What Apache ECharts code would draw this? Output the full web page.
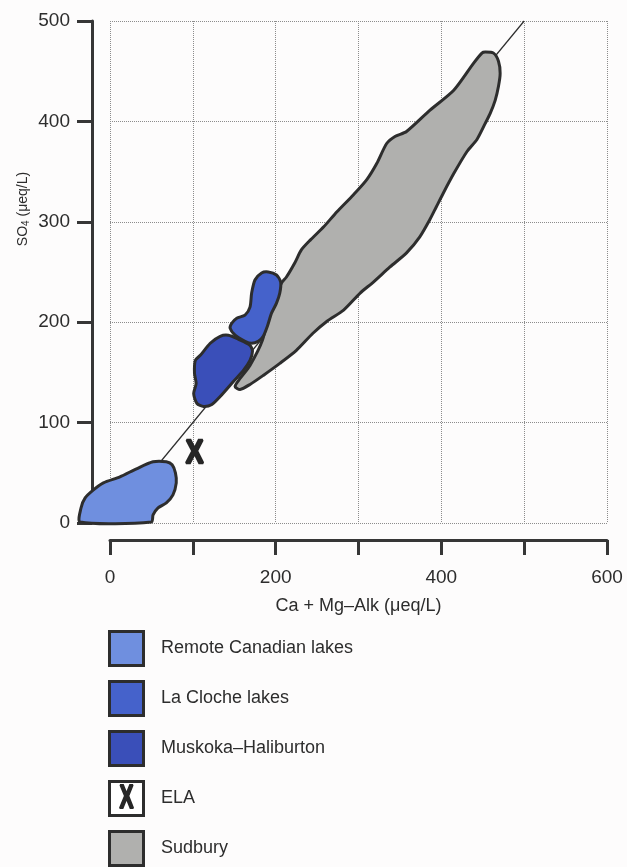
<!DOCTYPE html>
<html>
<head>
<meta charset="utf-8">
<title>SO4 vs Ca + Mg–Alk</title>
<script src="https://cdn.jsdelivr.net/npm/echarts@6/dist/echarts.min.js"></script>
<style>
  html, body { margin: 0; padding: 0; background: #fdfcfc; }
  #chart { width: 627px; height: 867px; }
</style>
</head>
<body>
<div id="chart"></div>
<script>
// Outlines of each lake group, as [Ca + Mg - Alk, SO4] pairs (µeq/L)
const remoteLakes = [[-36,1],[50,1],[52,8],[58,15],[68,20],[76,28],[80,40],[79,50],[75,58],[68,61],[52,61],[32,54],[12,46],[-8,40],[-20,33],[-30,25],[-35,15]];
const muskokaLakes = [[103,162],[109,167],[121,179],[133,186],[143,187],[155,183],[169,177],[172,171],[169,162],[161,152],[149,141],[133,126],[123,118],[113,116],[105,119],[101,129],[104,139],[102,149]];
const laClocheLakes = [[145,194],[147,199],[153,204],[163,207],[169,215],[171,229],[175,242],[183,249],[191,250],[201,247],[206,240],[205,229],[201,219],[195,209],[190,196],[185,186],[179,181],[171,179],[163,181],[151,187]];
const sudburyLakes = [[151,136],[157,133],[169,138],[185,147],[205,159],[225,172],[245,189],[262,201],[282,212],[302,229],[318,240],[338,255],[358,269],[374,285],[386,302],[394,315],[402,328],[415,348],[431,370],[443,382],[453,398],[459,408],[465,421],[469,435],[471,448],[469,460],[463,468],[453,469],[449,468],[439,458],[415,431],[386,411],[358,390],[344,385],[334,378],[322,358],[310,342],[294,327],[274,310],[258,295],[242,282],[231,272],[223,259],[213,245],[207,239],[193,212],[184,182],[169,157],[157,144]];
const elaPoint = [102, 70];
const oneToOneLine = [[0, 0], [500, 500]];

// Legend entries
const legendNames = ['Remote Canadian lakes', 'La Cloche lakes', 'Muskoka–Haliburton', 'ELA', 'Sudbury'];
const legendColors = ['#6f8fdf', '#4562cb', '#3a4fb9', '#ffffff', '#b0b0ae'];

// Axis ticks
const xTickValues = [0, 100, 200, 300, 400, 500, 600];
const xLabelValues = [0, 200, 400, 600];
const yTickValues = [0, 100, 200, 300, 400, 500];

const FONT = '"Liberation Sans", Arial, sans-serif';
const INK = '#2d2d2d';
const AXIS = '#363636';

const chart = echarts.init(document.getElementById('chart'), null, { renderer: 'canvas' });

function outlineSeries(name, pts, color, z) {
  return {
    name: name,
    type: 'custom',
    clip: false,
    silent: true,
    z: z,
    data: pts,
    encode: { x: 0, y: 1 },
    renderItem: function (params, api) {
      if (params.dataIndex !== 0) return null;
      const points = pts.map(function (p) { return api.coord(p); });
      return {
        type: 'polygon',
        shape: { points: points, smooth: 0.25 },
        style: { fill: color, stroke: INK, lineWidth: 3, lineJoin: 'round' }
      };
    }
  };
}

// Bold narrow "X" used for the ELA mark
function elaGlyph(x, y, size, squeeze, weight) {
  return {
    type: 'text', x: x, y: y, scaleX: squeeze,
    style: {
      text: 'X', fontFamily: FONT, fontWeight: 'bold', fontSize: size,
      fill: '#262626', stroke: '#262626', lineWidth: weight, lineJoin: 'miter',
      align: 'center', verticalAlign: 'middle', textAlign: 'center', textVerticalAlign: 'middle'
    }
  };
}

// Legend built from the entry arrays
const legendGraphics = [];
legendNames.forEach(function (name, i) {
  const top = 630 + 50 * i;
  legendGraphics.push({
    type: 'rect',
    shape: { x: 109.5, y: top + 1.5, width: 34, height: 34 },
    style: { fill: legendColors[i], stroke: INK, lineWidth: 3 }
  });
  if (name === 'ELA') {
    legendGraphics.push(elaGlyph(126.5, top + 19, 34, 0.62, 2.2));
  }
  legendGraphics.push({
    type: 'text', x: 161, y: top + 18.5,
    style: {
      text: name, fontFamily: FONT, fontSize: 18, fill: INK,
      align: 'left', verticalAlign: 'middle', textAlign: 'left', textVerticalAlign: 'middle'
    }
  });
});

const option = {
  backgroundColor: '#fdfcfc',
  animation: false,
  grid: { left: 110, right: 20, top: 21, bottom: 344, containLabel: false, outerBoundsMode: 'none' },
  xAxis: {
    type: 'value', min: 0, max: 600, interval: 100,
    position: 'bottom', offset: 17,
    name: 'Ca + Mg–Alk (μeq/L)', nameLocation: 'middle', nameGap: 57,
    nameTextStyle: { fontFamily: FONT, fontSize: 18, color: INK },
    axisLine: { show: true, onZero: false, lineStyle: { color: AXIS, width: 3 } },
    axisTick: { show: true, inside: false, length: 15, lineStyle: { color: AXIS, width: 3 } },
    axisLabel: {
      show: true, margin: 28, fontFamily: FONT, fontSize: 19, color: INK,
      formatter: function (v) { return xLabelValues.indexOf(v) >= 0 ? String(v) : ''; }
    },
    splitLine: { show: true, lineStyle: { type: 'dotted', color: '#8c8c8c', width: 1 } }
  },
  yAxis: {
    type: 'value', min: 0, max: 500, interval: 100,
    position: 'left', offset: 18,
    axisLine: { show: true, onZero: false, lineStyle: { color: AXIS, width: 3 } },
    axisTick: { show: true, inside: false, length: 15, lineStyle: { color: AXIS, width: 3 } },
    axisLabel: {
      show: true, margin: 22, fontFamily: FONT, fontSize: 19, color: INK,
      formatter: function (v) { return yTickValues.indexOf(v) >= 0 ? String(v) : ''; }
    },
    splitLine: { show: true, lineStyle: { type: 'dotted', color: '#8c8c8c', width: 1 } }
  },
  graphic: [
    {
      type: 'text', x: 23, y: 209, rotation: Math.PI / 2,
      style: {
        text: '{a|SO}{b|4}{a| (μeq/L)}',
        align: 'center', verticalAlign: 'middle', textAlign: 'center', textVerticalAlign: 'middle',
        fill: INK,
        rich: {
          a: { fontFamily: FONT, fontSize: 14, color: INK, lineHeight: 18 },
          b: { fontFamily: FONT, fontSize: 10, color: INK, lineHeight: 18, padding: [7, 0, 0, 0] }
        }
      }
    }
  ].concat(legendGraphics),
  series: [
    {
      name: '1:1', type: 'line', data: oneToOneLine, symbol: 'none', silent: true, z: 1, clip: false,
      lineStyle: { color: INK, width: 1.2 }
    },
    outlineSeries('Sudbury', sudburyLakes, legendColors[4], 2),
    outlineSeries('Muskoka–Haliburton', muskokaLakes, legendColors[2], 3),
    outlineSeries('La Cloche lakes', laClocheLakes, legendColors[1], 3),
    outlineSeries('Remote Canadian lakes', remoteLakes, legendColors[0], 3),
    {
      name: 'ELA', type: 'custom', clip: false, silent: true, z: 4,
      data: [elaPoint], encode: { x: 0, y: 1 },
      renderItem: function (params, api) {
        const c = api.coord([api.value(0), api.value(1)]);
        return elaGlyph(c[0], c[1] + 1, 34, 0.78, 2.6);
      }
    }
  ]
};

chart.setOption(option);
</script>
</body>
</html>
